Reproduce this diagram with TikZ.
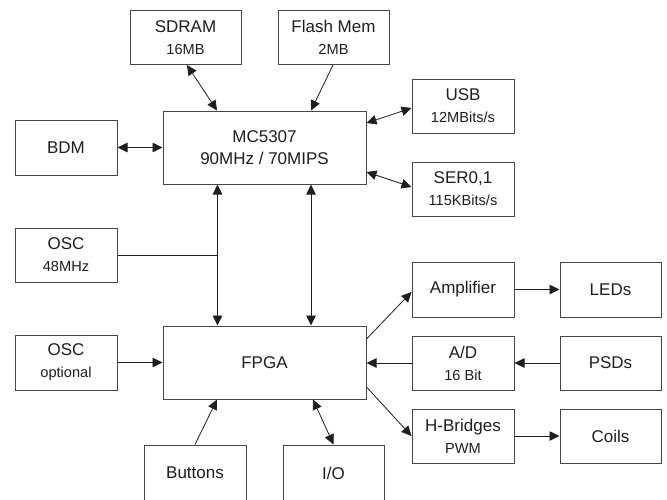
\documentclass[tikz,border=0pt]{standalone}
\usepackage{fontspec}
\setmainfont{Liberation Sans}
\usetikzlibrary{arrows.meta}
\tikzset{
  box/.style={draw=black!72, line width=1pt, minimum width=102pt, minimum height=54pt, inner sep=0pt, align=center, text=black!88, font=\fontsize{17}{22}\selectfont},
  bigbox/.style={box, minimum width=203pt, minimum height=73pt},
  conn/.style={draw=black!88, line width=0.8pt},
  tip/.tip={Triangle[length=10pt,width=9.5pt]},
}
\newcommand{\sub}[1]{{\fontsize{14.6}{22}\selectfont #1}}
\begin{document}
\begin{tikzpicture}[x=1pt,y=-1pt]
\clip (0,0) rectangle (667,499);
\fill[white] (0,0) rectangle (667,499);
% boxes
\node[box, minimum width=111pt, minimum height=54.5pt] (sdram) at (185.5,37.25) {SDRAM\\\sub{16MB}};
\node[box, minimum width=111pt, minimum height=54.5pt] (flash) at (333.5,37.25) {Flash Mem\\\sub{2MB}};
\node[bigbox] (mc) at (264.5,147.5) {MC5307\\90MHz / 70MIPS};
\node[box, minimum height=55pt] (bdm) at (66,147.5) {BDM};
\node[box] (usb) at (463,106) {USB\\\sub{12MBits/s}};
\node[box] (ser) at (463,189) {SER0,1\\\sub{115KBits/s}};
\node[box] (osca) at (66,255) {OSC\\\sub{48MHz}};
\node[box, minimum height=55pt] (oscb) at (66,362.5) {OSC\\\sub{optional}};
\node[bigbox] (fpga) at (264.5,362.5) {FPGA};
\node[box, minimum height=55pt] (amp) at (463,289.5) {Amplifier};
\node[box, minimum width=101pt, minimum height=55pt] (leds) at (610.5,289.5) {LEDs};
\node[box] (ad) at (463,363) {A/D\\\sub{16 Bit}};
\node[box, minimum width=101pt] (psds) at (610.5,363) {PSDs};
\node[box] (hb) at (463,436) {H-Bridges\\\sub{PWM}};
\node[box, minimum width=101pt] (coils) at (610.5,436) {Coils};
\node[box, minimum height=56pt] (btn) at (195,473) {Buttons};
\node[box, minimum width=101pt, minimum height=56pt] (io) at (333.5,473) {I/O};
% connectors
\draw[conn, tip-tip] ([xshift=1.5pt]sdram.south) -- ([xshift=-47.5pt]mc.north);
\draw[conn, -tip] ([xshift=-0.5pt]flash.south) -- ([xshift=46.5pt]mc.north);
\draw[conn, tip-tip] ([yshift=24.5pt]mc.east) -- ([yshift=-2pt]usb.west);
\draw[conn, tip-tip] ([yshift=-24.5pt]mc.east) -- ([yshift=2pt]ser.west);
\draw[conn, tip-tip] (bdm.east) -- (mc.west);
\coordinate (va) at ([xshift=-47pt]mc.south);
\coordinate (vb) at ([xshift=-47pt]fpga.north);
\draw[conn, tip-tip] (va) -- (vb);
\draw[conn] (osca.east) -- (osca.east -| va);
\draw[conn, tip-tip] ([xshift=46.5pt]mc.south) -- ([xshift=46.5pt]fpga.north);
\draw[conn, -tip] (oscb.east) -- (fpga.west);
\draw[conn, -tip] ([yshift=23.5pt]fpga.east) -- ([yshift=-2.5pt]amp.west);
\draw[conn, -tip] (amp.east) -- (leds.west);
\draw[conn, -tip] (ad.west) -- (ad.west -| fpga.east);
\draw[conn, -tip] (psds.west) -- (ad.east);
\draw[conn, -tip] ([yshift=-24.5pt]fpga.east) -- (hb.west);
\draw[conn, -tip] (hb.east) -- (coils.west);
\draw[conn, -tip] (btn.north) -- ([xshift=-47.5pt]fpga.south);
\draw[conn, tip-tip] ([xshift=48.5pt]fpga.south) -- (io.north);
\end{tikzpicture}
\end{document}
